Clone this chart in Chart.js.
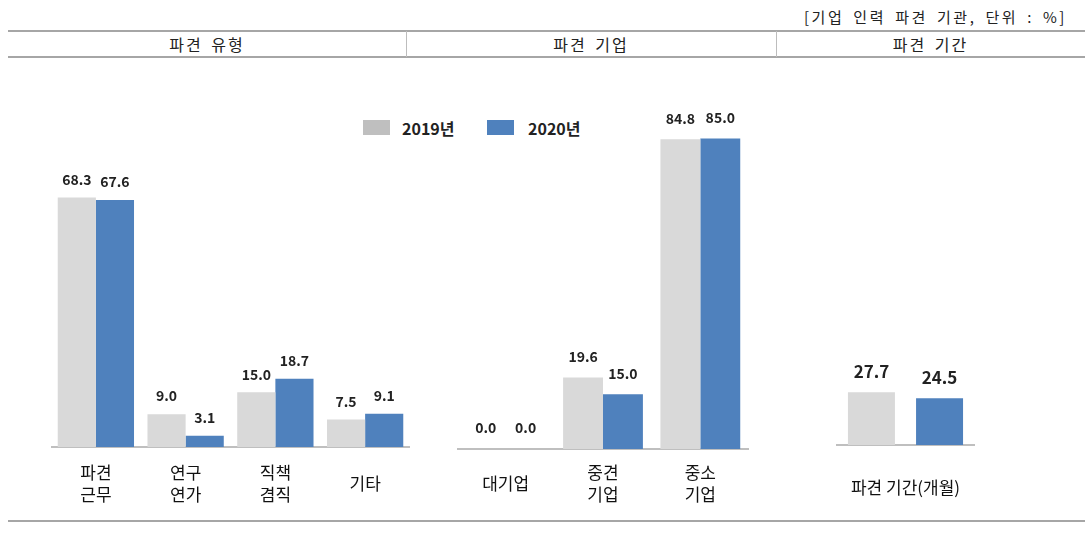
<!DOCTYPE html>
<html>
<head>
<meta charset="utf-8">
<script src="https://cdn.jsdelivr.net/npm/chart.js@4"></script>
<style>
  body { margin: 0; background: #fff; font-family: "Noto Sans CJK KR", "Noto Sans", sans-serif; }
  #wrap { position: relative; width: 1091px; height: 542px; overflow: hidden; }
  .hline { position: absolute; left: 8px; width: 1077px; height: 0; border-top: 2px solid #a6a6a6; }
  .vline { position: absolute; top: 31px; height: 26px; width: 0; border-left: 1px solid #bdbdbd; }
  .head { position: absolute; top: 31px; height: 26px; line-height: 26px; text-align: center;
          font-size: 16px; color: #222; letter-spacing: 2px; word-spacing: 3px; }
  .note { position: absolute; top: 6px; right: 24px; font-size: 15px; color: #222;
          letter-spacing: 2.6px; word-spacing: 3px; }
  .lg-box { position: absolute; top: 120px; width: 27px; height: 15px; }
  .lg-txt { position: absolute; top: 117px; font-size: 16px; font-weight: bold; color: #222; line-height: 22px; }
  canvas { position: absolute; }
</style>
</head>
<body>
<div id="wrap">
  <div class="note">[기업 인력 파견 기관, 단위 : %]</div>
  <div class="hline" style="top:30px"></div>
  <div class="hline" style="top:56px"></div>
  <div class="vline" style="left:406px"></div>
  <div class="vline" style="left:776px"></div>
  <div class="head" style="left:8px;width:398px">파견 유형</div>
  <div class="head" style="left:406px;width:370px">파견 기업</div>
  <div class="head" style="left:776px;width:309px">파견 기간</div>

  <div class="lg-box" style="left:363px;background:#bfbfbf"></div>
  <div class="lg-txt" id="lg1" style="left:402px"></div>
  <div class="lg-box" style="left:487px;background:#4f81bd"></div>
  <div class="lg-txt" id="lg2" style="left:528px"></div>

  <canvas id="typeChart" width="359" height="407" style="left:51px;top:100px"></canvas>
  <canvas id="firmChart" width="292" height="407" style="left:457px;top:102px"></canvas>
  <canvas id="periodChart" width="139" height="205" style="left:836px;top:300px"></canvas>

  <div class="hline" style="top:520px"></div>
</div>
<script>
// data
const years = ["2019년", "2020년"];

const typeLabels = [["파견", "근무"], ["연구", "연가"], ["직책", "겸직"], "기타"];
const type2019 = [68.3, 9.0, 15.0, 7.5];
const type2020 = [67.6, 3.1, 18.7, 9.1];

const firmLabels = ["대기업", ["중견", "기업"], ["중소", "기업"]];
const firm2019 = [0.0, 19.6, 84.8];
const firm2020 = [0.0, 15.0, 85.0];

const periodLabels = ["파견 기간(개월)"];
const period2019 = [27.7];
const period2020 = [24.5];

const colors = {
  gray: "#d9d9d9",
  blue: "#4f81bd",
  axis: "#bfbfbf",
  text: "#222"
};

document.getElementById("lg1").innerText = years[0];
document.getElementById("lg2").innerText = years[1];

Chart.defaults.font.family = '"Noto Sans CJK KR", "Noto Sans", sans-serif';

// draws the number above each bar
const valueLabels = {
  id: "valueLabels",
  afterDatasetsDraw(chart, args, opts) {
    const ctx = chart.ctx;
    ctx.save();
    ctx.font = "bold " + opts.size + "px " + Chart.defaults.font.family;
    ctx.fillStyle = colors.text;
    ctx.textAlign = "center";
    ctx.textBaseline = "middle";
    chart.data.datasets.forEach((ds, i) => {
      chart.getDatasetMeta(i).data.forEach((bar, j) => {
        ctx.fillText(ds.data[j].toFixed(1), bar.x, bar.y - opts.gap);
      });
    });
    ctx.restore();
  }
};

function makeChart(id, labels, a, b, o) {
  return new Chart(document.getElementById(id), {
    type: "bar",
    data: {
      labels: labels,
      datasets: [
        { label: years[0], data: a, backgroundColor: colors.gray },
        { label: years[1], data: b, backgroundColor: colors.blue }
      ]
    },
    options: {
      responsive: false,
      animation: false,
      devicePixelRatio: 1,
      categoryPercentage: o.cat,
      barPercentage: o.bar,
      layout: { padding: 0 },
      plugins: {
        legend: { display: false },
        tooltip: { enabled: false },
        valueLabels: { size: o.valSize, gap: o.gap }
      },
      scales: {
        x: {
          grid: { display: false, drawTicks: false },
          border: { display: true, color: colors.axis, width: 2 },
          ticks: {
            color: "#111",
            font: { size: 17, lineHeight: "22px" },
            padding: o.pad,
            crossAlign: "center",
            maxRotation: 0,
            autoSkip: false
          },
          afterFit: s => {
            s.height = 60;
            s.paddingLeft = 0;
            s.paddingRight = 0;
          }
        },
        y: { display: false, min: 0, max: o.max }
      }
    },
    plugins: [valueLabels]
  });
}

makeChart("typeChart", typeLabels, type2019, type2020,
  { cat: 0.85, bar: 1, max: 95, valSize: 14, gap: 18, pad: 26 });
makeChart("firmChart", firmLabels, firm2019, firm2020,
  { cat: 0.82, bar: 1, max: 95, valSize: 14, gap: 21, pad: 24 });
makeChart("periodChart", periodLabels, period2019, period2020,
  { cat: 0.98, bar: 0.69, max: 76, valSize: 17, gap: 21, pad: 43 });
</script>
</body>
</html>
